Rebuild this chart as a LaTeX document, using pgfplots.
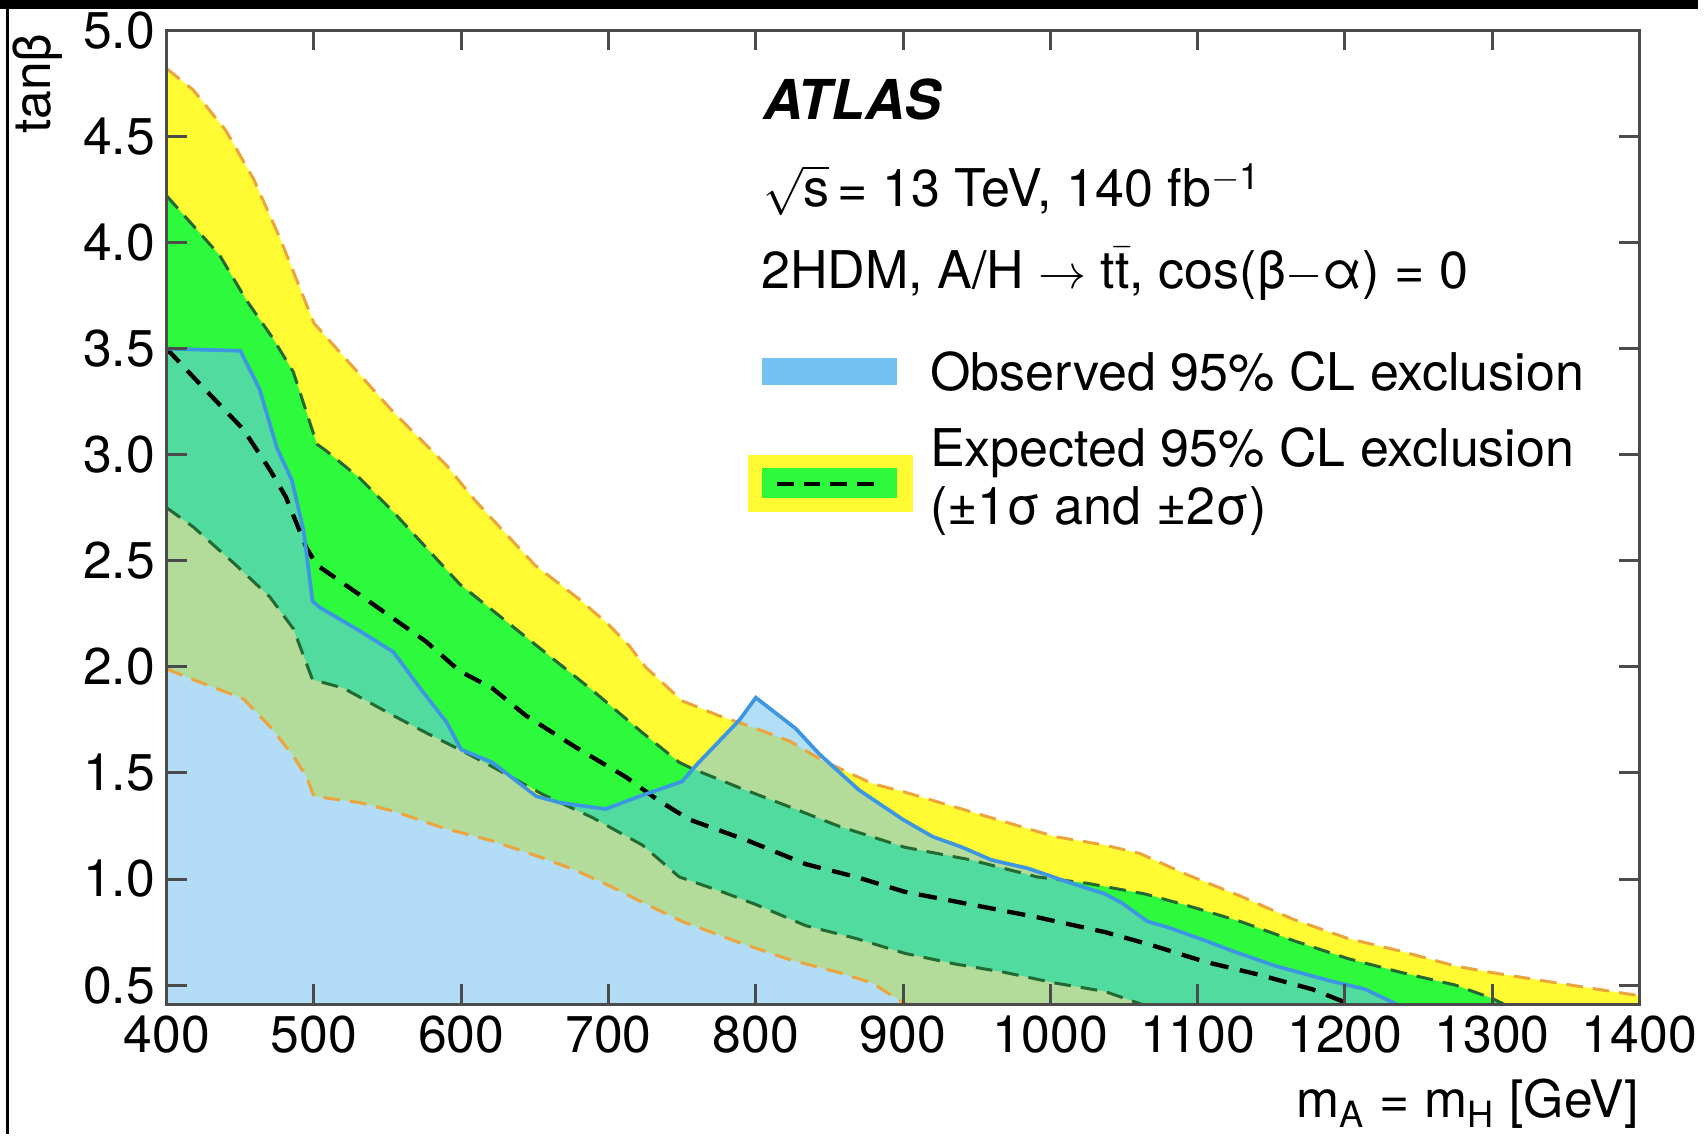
\documentclass[border=0pt]{standalone}
\usepackage{fontspec}
\setmainfont{TeX Gyre Heros}
\usepackage{pgfplots}
\usepackage{pgfplotstable}
\pgfplotsset{compat=1.18}

\definecolor{ylw}{RGB}{255,250,50}
\definecolor{grn}{RGB}{45,250,60}
\definecolor{obsfill}{RGB}{115,194,242}
\definecolor{obsline}{RGB}{60,150,225}
\definecolor{orl}{RGB}{235,165,60}
\definecolor{dgl}{RGB}{35,105,50}
\definecolor{axgray}{RGB}{75,75,75}

% expected +2 sigma
\pgfplotstableread{
x y
400 4.82
418 4.72
440 4.53
459 4.30
477 4.02
500 3.62
527 3.41
554 3.20
590 2.95
610 2.78
650 2.48
680 2.32
700 2.20
714 2.10
725 2.00
750 1.84
775 1.77
800 1.71
823 1.65
845 1.56
879 1.45
901 1.41
935 1.34
969 1.27
1003 1.20
1037 1.16
1061 1.12
1093 1.02
1129 0.92
1165 0.81
1202 0.72
1238 0.66
1275 0.59
1299 0.56
1335 0.52
1372 0.48
1400 0.45
}\ptwo

% expected +1 sigma
\pgfplotstableread{
x y
400 4.22
418 4.08
436 3.94
454 3.73
472 3.55
486 3.39
502 3.05
508 3.02
531 2.89
554 2.73
599 2.39
644 2.14
689 1.89
723 1.69
748 1.55
757 1.52
789 1.43
823 1.34
856 1.25
901 1.15
946 1.09
991 1.01
1025 0.98
1064 0.93
1093 0.875
1129 0.80
1165 0.71
1202 0.625
1238 0.56
1275 0.50
1299 0.44
1311 0.40
}\pone

% expected median
\pgfplotstableread{
x y
400 3.50
423 3.33
452 3.12
470 2.93
481 2.80
495 2.56
502 2.48
531 2.34
576 2.12
599 1.98
621 1.90
644 1.77
678 1.62
712 1.48
734 1.37
755 1.28
795 1.18
834 1.07
868 1.01
901 0.94
946 0.88
991 0.82
1037 0.75
1068 0.69
1105 0.61
1141 0.55
1178 0.48
1207 0.40
}\med

% expected -1 sigma
\pgfplotstableread{
x y
400 2.75
418 2.66
447 2.48
470 2.33
486 2.18
499 1.94
520 1.90
554 1.77
576 1.69
599 1.61
621 1.53
655 1.40
689 1.29
723 1.16
748 1.01
777 0.94
800 0.88
834 0.78
868 0.72
901 0.65
935 0.60
969 0.56
1003 0.51
1037 0.47
1066 0.40
}\mone

% expected -2 sigma
\pgfplotstableread{
x y
400 1.99
418 1.94
452 1.85
470 1.72
486 1.58
495 1.48
500 1.39
531 1.36
554 1.32
588 1.24
621 1.18
655 1.10
678 1.04
700 0.97
723 0.89
750 0.80
789 0.70
823 0.62
856 0.56
879 0.51
897 0.43
905 0.40
}\mtwo

% observed
\pgfplotstableread{
x y
400 3.50
450 3.49
463 3.31
475 3.03
485 2.88
493 2.64
499 2.31
504 2.28
531 2.17
554 2.07
572 1.90
590 1.74
600 1.61
621 1.55
651 1.39
667 1.36
698 1.33
721 1.39
750 1.46
760 1.54
789 1.75
800 1.855
827 1.71
843 1.59
870 1.42
900 1.28
920 1.20
940 1.15
960 1.09
985 1.05
1010 0.99
1037 0.93
1048 0.89
1066 0.80
1081 0.77
1105 0.71
1124 0.66
1153 0.59
1190 0.52
1214 0.48
1238 0.40
}\obs

\begin{document}
\begin{tikzpicture}[txt/.style={anchor=base west, inner sep=0pt, font=\fontsize{15.6}{18}\selectfont}]
\begin{axis}[
  scale only axis,
  width=441.8pt, height=292.1pt,
  xmin=400, xmax=1400, ymin=0.41, ymax=5.0,
  xtick={400,500,600,700,800,900,1000,1100,1200,1300,1400},
  ytick={0.5,1,1.5,2,2.5,3,3.5,4,4.5,5},
  tick align=inside,
  major tick length=6pt,
  axis line style={axgray, line width=0.9pt},
  tick style={axgray, line width=0.9pt},
  /pgf/number format/assume math mode=true,
  tick label style={font=\fontsize{15.5}{18}\selectfont},
  yticklabel style={/pgf/number format/.cd, fixed, fixed zerofill, precision=1},
  xticklabel style={/pgf/number format/1000 sep={}},
  axis on top,
  clip mode=individual,
]
  % bands and observed region
  \addplot[draw=none, fill=ylw] table {\ptwo} \closedcycle;
  \addplot[draw=none, fill=grn] table {\pone} \closedcycle;
  \addplot[draw=none, fill=ylw] table {\mone} \closedcycle;
  \addplot[draw=none, fill=white] table {\mtwo} \closedcycle;
  \addplot[draw=none, fill=obsfill, fill opacity=0.54] table {\obs} \closedcycle;

  % contour lines
  \addplot[orl, line width=0.9pt, dash pattern=on 5pt off 3pt] table {\mtwo};
  \addplot[orl, line width=0.9pt, dash pattern=on 5pt off 3pt] table {\ptwo};
  \addplot[dgl, line width=0.9pt, dash pattern=on 5pt off 3pt] table {\mone};
  \addplot[dgl, line width=0.9pt, dash pattern=on 5pt off 3pt] table {\pone};
  \addplot[black, line width=1.3pt, dash pattern=on 5.5pt off 3.5pt] table {\med};
  \addplot[obsline, line width=1.1pt] table {\obs};

  % labels and legend
  \node[txt, font=\fontsize{16.5}{19}\selectfont\bfseries\itshape]
    at (rel axis cs:0.4045,0.9083) {ATLAS};
  \node[txt] at (rel axis cs:0.4045,0.8188)
    {$\sqrt{\mbox{s}}$\,= 13 TeV, 140 fb\textsuperscript{$-$1}};
  \node[txt] at (rel axis cs:0.4032,0.7349)
    {2HDM, A/H $\rightarrow$ t$\bar{\mbox{t}}$, cos(β$-$α) = 0};

  \fill[obsfill] (rel axis cs:0.4042,0.6357) rectangle (rel axis cs:0.4959,0.6635);
  \node[txt] at (rel axis cs:0.5180,0.6306) {Observed 95\% CL exclusion};

  \fill[ylw] (rel axis cs:0.3947,0.5056) rectangle (rel axis cs:0.5067,0.5641);
  \fill[grn] (rel axis cs:0.4042,0.5199) rectangle (rel axis cs:0.4959,0.5508);
  \draw[black, line width=1.3pt, dash pattern=on 5pt off 3pt]
    (rel axis cs:0.4144,0.5343) -- (rel axis cs:0.4864,0.5343);
  \node[txt] at (rel axis cs:0.5180,0.5526) {Expected 95\% CL exclusion};
  \node[txt] at (rel axis cs:0.5180,0.4922) {(±1σ and ±2σ)};

  \node[rotate=90, anchor=base east, font=\fontsize{15.5}{18}\selectfont, inner sep=0pt]
    at (rel axis cs:-0.0792,0.9974) {tanβ};
  \node[anchor=base east, font=\fontsize{15.5}{18}\selectfont, inner sep=0pt]
    at (rel axis cs:1.0,-0.1165) {m\textsubscript{A} = m\textsubscript{H} [GeV]};

  \coordinate (picbl) at (rel axis cs:-0.11319,-0.13319);
  \coordinate (pictr) at (rel axis cs:1.04658,1.03132);
  \coordinate (bartr) at (rel axis cs:1.0398,1.02208);
  \coordinate (lineb) at (rel axis cs:-0.1081,-0.13319);
  \coordinate (linet) at (rel axis cs:-0.1081,1.02208);
\end{axis}
\path (picbl) rectangle (pictr);
\fill[black] (picbl |- pictr) rectangle (bartr);
\draw[black, line width=0.9pt] (lineb) -- (linet);
\end{tikzpicture}
\end{document}
